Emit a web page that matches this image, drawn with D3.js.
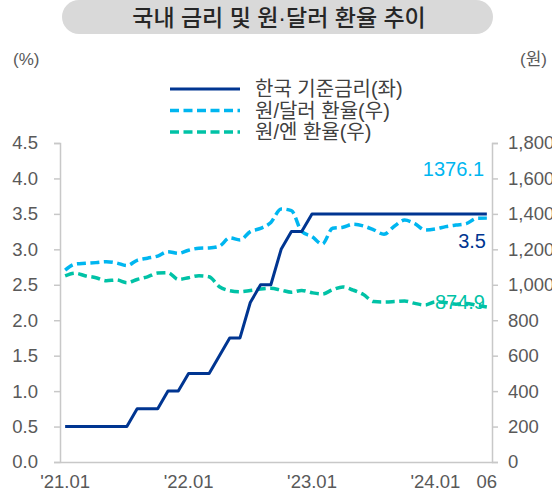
<!DOCTYPE html>
<html>
<head>
<meta charset="utf-8">
<script src="https://cdn.jsdelivr.net/npm/d3@7"></script>
<style>
  body { margin: 0; background: #fff; }
  svg text { font-family: 'Liberation Sans', 'Noto Sans CJK KR', sans-serif; }
</style>
</head>
<body>
<script>
// data
var months = [
  '21.01', '21.02', '21.03', '21.04', '21.05', '21.06', '21.07', '21.08', '21.09', '21.10', '21.11', '21.12',
  '22.01', '22.02', '22.03', '22.04', '22.05', '22.06', '22.07', '22.08', '22.09', '22.10', '22.11', '22.12',
  '23.01', '23.02', '23.03', '23.04', '23.05', '23.06', '23.07', '23.08', '23.09', '23.10', '23.11', '23.12',
  '24.01', '24.02', '24.03', '24.04', '24.05', '24.06'
]
var baseRate = [
  0.5, 0.5, 0.5, 0.5, 0.5, 0.5, 0.5, 0.75, 0.75, 0.75, 1.0, 1.0,
  1.25, 1.25, 1.25, 1.5, 1.75, 1.75, 2.25, 2.5, 2.5, 3.0, 3.25, 3.25,
  3.5, 3.5, 3.5, 3.5, 3.5, 3.5, 3.5, 3.5, 3.5, 3.5, 3.5, 3.5,
  3.5, 3.5, 3.5, 3.5, 3.5, 3.5
]
var usdKrw = [
  1083, 1117, 1121, 1125, 1130, 1123, 1108, 1138, 1150, 1162, 1187, 1177,
  1195, 1206, 1208, 1218, 1265, 1253, 1300, 1318, 1352, 1428, 1418, 1300,
  1272, 1230, 1319, 1325, 1342, 1332, 1310, 1285, 1330, 1365, 1345, 1309,
  1315, 1328, 1337, 1345, 1375, 1376.1
]
var jpyKrw = [
  1050, 1065, 1050, 1040, 1023, 1027, 1012, 1030, 1045, 1066, 1068, 1030,
  1040, 1051, 1045, 989, 967, 961, 968, 976, 980, 970, 958, 968,
  955, 948, 972, 988, 970, 945, 905, 903, 905, 908, 895, 886,
  903, 900, 890, 895, 885, 874.9
]
var tickMonths = ['21.01', '22.01', '23.01', '24.01', '24.06']
var tickLabels = ["'21.01", "'22.01", "'23.01", "'24.01", '06']
var leftTicks = [0, 0.5, 1, 1.5, 2, 2.5, 3, 3.5, 4, 4.5]
var rightTicks = [0, 200, 400, 600, 800, 1000, 1200, 1400, 1600, 1800]
var seriesNames = ['한국 기준금리(좌)', '원/달러 환율(우)', '원/엔 환율(우)']

var w = 552
var h = 495
var plotL = 60
var plotR = 492
var plotT = 143
var plotB = 462

var navy = '#003591'
var sky = '#00b6f0'
var teal = '#00c2a6'
var axisColor = '#c8c8c8'
var labelColor = '#595959'
var dash = '9,4.5'

var svg = d3.select('body')
  .append('svg')
  .attr('width', w)
  .attr('height', h)

// title pill
svg.append('rect')
  .attr('x', 62)
  .attr('y', 0)
  .attr('width', 431)
  .attr('height', 34)
  .attr('rx', 17)
  .attr('fill', '#d9d9d9')
svg.append('text')
  .attr('x', 279)
  .attr('y', 26)
  .attr('text-anchor', 'middle')
  .attr('font-size', '23px')
  .attr('font-weight', 500)
  .attr('fill', '#262626')
  .text('국내 금리 및 원·달러 환율 추이')

// scales
var xScale = d3.scaleBand()
  .domain(months)
  .range([plotL, plotR])
var xMid = function (m) { return xScale(m) + xScale.bandwidth() / 2 }

var yLeft = d3.scaleLinear().domain([0, 4.5]).range([plotB, plotT])
var yRight = d3.scaleLinear().domain([0, 1800]).range([plotB, plotT])

// axes
var gLeft = svg.append('g')
  .attr('transform', 'translate(' + plotL + ',0)')
  .call(d3.axisLeft(yLeft).tickValues(leftTicks).tickFormat(d3.format('.1f')).tickSize(6).tickPadding(16))
var gRight = svg.append('g')
  .attr('transform', 'translate(' + plotR + ',0)')
  .call(d3.axisRight(yRight).tickValues(rightTicks).tickFormat(d3.format(',')).tickSize(6).tickPadding(10))
var gBottom = svg.append('g')
  .attr('transform', 'translate(0,' + plotB + ')')
  .call(d3.axisBottom(xScale).tickValues(tickMonths)
    .tickFormat(function (d) { return tickLabels[tickMonths.indexOf(d)] })
    .tickSize(0).tickPadding(12))

;[gLeft, gRight, gBottom].forEach(function (g) {
  g.select('.domain').attr('stroke', axisColor).attr('stroke-width', 1.5)
  g.selectAll('.tick line').attr('stroke', axisColor).attr('stroke-width', 1.5)
  g.selectAll('.tick text')
    .attr('fill', labelColor)
    .attr('font-size', '18.5px')
})
gBottom.selectAll('.tick text').attr('dy', '0.75em')

// unit labels
svg.append('text').attr('x', 13).attr('y', 65)
  .attr('font-size', '17px').attr('fill', labelColor).text('(%)')
svg.append('text').attr('x', 520).attr('y', 65)
  .attr('font-size', '17px').attr('fill', labelColor).text('(원)')

// lines
var lineLeft = d3.line()
  .x(function (d, i) { return xMid(months[i]) })
  .y(function (d) { return yLeft(d) })
var lineRight = d3.line()
  .x(function (d, i) { return xMid(months[i]) })
  .y(function (d) { return yRight(d) })
  .curve(d3.curveMonotoneX)

svg.append('path')
  .attr('d', lineRight(jpyKrw))
  .attr('fill', 'none')
  .attr('stroke', teal)
  .attr('stroke-width', 3.5)
  .attr('stroke-dasharray', dash)
svg.append('path')
  .attr('d', lineRight(usdKrw))
  .attr('fill', 'none')
  .attr('stroke', sky)
  .attr('stroke-width', 3.5)
  .attr('stroke-dasharray', dash)
svg.append('path')
  .attr('d', lineLeft(baseRate))
  .attr('fill', 'none')
  .attr('stroke', navy)
  .attr('stroke-width', 3)
  .attr('stroke-linejoin', 'round')

// end value labels
var last = months.length - 1
svg.append('text')
  .attr('x', 484).attr('y', yRight(usdKrw[last]) - 42)
  .attr('text-anchor', 'end').attr('font-size', '20px').attr('fill', sky)
  .text(usdKrw[last].toFixed(1))
svg.append('text')
  .attr('x', 486).attr('y', yLeft(baseRate[last]) + 34)
  .attr('text-anchor', 'end').attr('font-size', '20px').attr('fill', navy)
  .text(baseRate[last].toFixed(1))
svg.append('text')
  .attr('x', 485).attr('y', yRight(jpyKrw[last]) + 2)
  .attr('text-anchor', 'end').attr('font-size', '20px').attr('fill', teal)
  .text(jpyKrw[last].toFixed(1))

// legend
var legendColors = [navy, sky, teal]
var legend = svg.append('g')
legendColors.forEach(function (c, i) {
  var y = 89 + i * 21.5
  legend.append('line')
    .attr('x1', 170).attr('x2', 240)
    .attr('y1', y).attr('y2', y)
    .attr('stroke', c)
    .attr('stroke-width', i === 0 ? 3 : 3.5)
    .attr('stroke-dasharray', i === 0 ? null : dash)
  legend.append('text')
    .attr('x', 255).attr('y', y + 7)
    .attr('font-size', '20px').attr('fill', '#404040')
    .text(seriesNames[i])
})
</script>
</body>
</html>
